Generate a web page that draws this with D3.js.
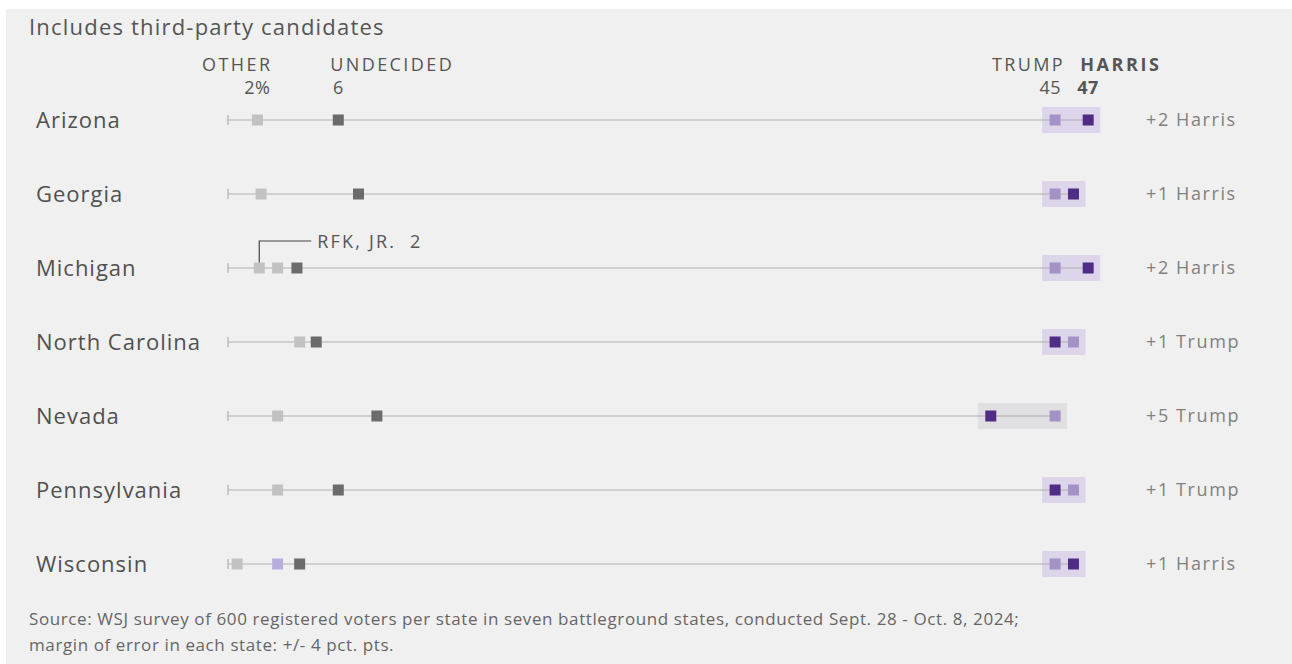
<!DOCTYPE html>
<html lang="en">
<head>
    <meta charset="UTF-8">
    <title>Battleground polls - third-party candidates</title>
    <script src="https://d3js.org/d3.v7.min.js"></script>
    <style>
        body {
            margin: 0;
            background: #fff;
            font-family: 'Open Sans', sans-serif;
        }
        #chart {
            width: 1292px;
            height: 664px;
        }
        .title { fill: #555; font-size: 22px; letter-spacing: 1.2px; }
        .state-label { fill: #505050; font-size: 22px; letter-spacing: 1px; }
        .head { fill: #555; font-size: 18px; letter-spacing: 2.4px; }
        .val { fill: #555; font-size: 18px; letter-spacing: 0.5px; }
        .margin-label { fill: #808080; font-size: 18px; letter-spacing: 1.6px; }
        .note { fill: #666; font-size: 17px; letter-spacing: 0.6px; }
    </style>
</head>
<body>
    <div id="chart"></div>

    <script>
        // data (percent)
        const states = ["Arizona", "Georgia", "Michigan", "North Carolina", "Nevada", "Pennsylvania", "Wisconsin"];
        const harris = [46.8, 46, 46.8, 45, 41.5, 45, 46];
        const trump = [45, 45, 45, 46, 45, 46, 45];
        const other = [1.6, 1.8, 2.7, 3.9, 2.7, 2.7, 0.5];
        const undecided = [6, 7.1, 3.75, 4.8, 8.1, 6, 3.9];
        const rfk = [null, null, 1.7, null, null, null, null];
        const thirdParty = [null, null, null, null, null, null, 2.7];
        const margins = ["+2 Harris", "+1 Harris", "+2 Harris", "+1 Trump", "+5 Trump", "+1 Trump", "+1 Harris"];

        const title = "Includes third-party candidates";
        const sourceLines = [
            "Source: WSJ survey of 600 registered voters per state in seven battleground states, conducted Sept. 28 - Oct. 8, 2024;",
            "margin of error in each state: +/- 4 pct. pts."
        ];

        const colors = {
            other: "#c2c2c2",
            undecided: "#6b6b6b",
            trump: "#a392c6",
            harris: "#4f2d86",
            third: "#b9aedb",
            line: "#b0b0b0",
            shade: "#ddd5ea",
            shadeWide: "#e0e0e2"
        };

        const rows = states.map((s, i) => ({
            state: s, harris: harris[i], trump: trump[i], other: other[i],
            undecided: undecided[i], rfk: rfk[i], third: thirdParty[i], margin: margins[i]
        }));

        const width = 1292, height = 664;
        const svg = d3.select("#chart").append("svg")
            .attr("width", width)
            .attr("height", height);

        svg.append("rect")
            .attr("x", 6).attr("y", 9)
            .attr("width", width - 6).attr("height", height - 9)
            .attr("fill", "#f0f0f0");

        const x = d3.scaleLinear().domain([0, 47]).range([228, 228 + 47 * 18.38]);
        const y = d3.scalePoint().domain(states).range([120, 564]);
        const sq = 11;

        svg.append("text")
            .attr("class", "title")
            .attr("x", 29).attr("y", 35)
            .text(title);

        // column headers, values taken from the first row
        const first = rows[0];
        const headY = 71, valY = 94;
        svg.append("text").attr("class", "head")
            .attr("x", x(first.other) + 15).attr("y", headY)
            .attr("text-anchor", "end").text("OTHER");
        svg.append("text").attr("class", "val")
            .attr("x", x(first.other) + 13).attr("y", valY)
            .attr("text-anchor", "end").text(Math.round(first.other) + "%");
        svg.append("text").attr("class", "head")
            .attr("x", x(first.undecided) - 8).attr("y", headY)
            .text("UNDECIDED");
        svg.append("text").attr("class", "val")
            .attr("x", x(first.undecided)).attr("y", valY)
            .attr("text-anchor", "middle").text(Math.round(first.undecided));
        svg.append("text").attr("class", "head")
            .attr("x", x(first.trump) + 10).attr("y", headY)
            .attr("text-anchor", "end").text("TRUMP");
        svg.append("text").attr("class", "val")
            .attr("x", x(first.trump) + 6).attr("y", valY)
            .attr("text-anchor", "end").text(Math.round(first.trump));
        svg.append("text").attr("class", "head")
            .attr("x", x(first.harris) - 8).attr("y", headY)
            .attr("fill", "#333").style("font-weight", "bold").style("letter-spacing", "2.6px")
            .text("HARRIS");
        svg.append("text").attr("class", "val")
            .attr("x", x(first.harris) - 11).attr("y", valY)
            .attr("fill", "#333").style("font-weight", "bold")
            .text(Math.round(first.harris));

        const g = svg.selectAll(".row")
            .data(rows)
            .enter()
            .append("g")
            .attr("class", "row")
            .attr("transform", d => `translate(0,${y(d.state)})`);

        g.append("text")
            .attr("class", "state-label")
            .attr("x", 36).attr("dy", "0.35em")
            .text(d => d.state);

        // shaded band between the two main candidates
        g.append("rect")
            .attr("x", d => x(Math.min(d.trump, d.harris)) - 13)
            .attr("y", -13)
            .attr("width", d => Math.abs(x(d.trump) - x(d.harris)) + 25)
            .attr("height", 26)
            .attr("fill", d => Math.abs(d.trump - d.harris) > 3 ? colors.shadeWide : colors.shade);

        g.append("line")
            .attr("x1", x(0))
            .attr("x2", d => x(Math.max(d.trump, d.harris)))
            .attr("stroke", colors.line)
            .attr("stroke-width", 1.2);

        g.append("line")
            .attr("x1", x(0)).attr("x2", x(0))
            .attr("y1", -5).attr("y2", 5)
            .attr("stroke", colors.line)
            .attr("stroke-width", 1.2);

        const marks = [
            { key: "other", color: colors.other },
            { key: "rfk", color: colors.other },
            { key: "third", color: colors.third },
            { key: "undecided", color: colors.undecided },
            { key: "trump", color: colors.trump },
            { key: "harris", color: colors.harris }
        ];

        marks.forEach(m => {
            g.filter(d => d[m.key] != null)
                .append("rect")
                .attr("x", d => x(d[m.key]) - sq / 2)
                .attr("y", -sq / 2)
                .attr("width", sq)
                .attr("height", sq)
                .attr("fill", m.color);
        });

        g.append("text")
            .attr("class", "margin-label")
            .attr("x", 1146).attr("dy", "0.35em")
            .text(d => d.margin);

        // RFK annotation on Michigan
        const mi = rows.find(d => d.rfk != null);
        const miY = y(mi.state);
        svg.append("path")
            .attr("d", `M${x(mi.rfk)},${miY - sq / 2}V${miY - 27}H${x(mi.rfk) + 52}`)
            .attr("fill", "none")
            .attr("stroke", "#444")
            .attr("stroke-width", 1.2);
        svg.append("text")
            .attr("class", "head")
            .attr("x", x(mi.rfk) + 58).attr("y", miY - 20)
            .attr("xml:space", "preserve")
            .style("letter-spacing", "2.2px")
            .text("RFK, JR.  " + Math.round(mi.rfk));

        svg.selectAll(".note")
            .data(sourceLines)
            .enter()
            .append("text")
            .attr("class", "note")
            .attr("x", 29)
            .attr("y", (d, i) => 625 + i * 26)
            .text(d => d);
    </script>
</body>
</html>
